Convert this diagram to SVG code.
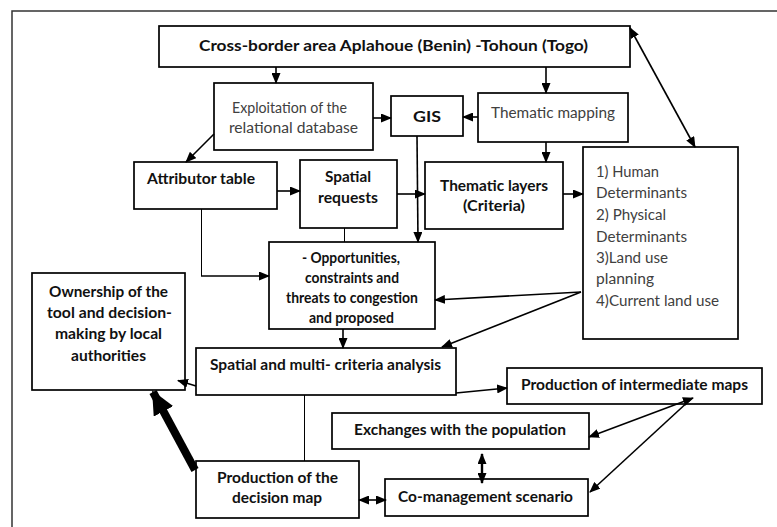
<svg xmlns="http://www.w3.org/2000/svg" width="777" height="527" viewBox="0 0 777 527">
<defs>
<style>
.box{fill:#fff;stroke:#000;stroke-width:1.7}
.b{font-family:Lato,"Liberation Sans",sans-serif;font-weight:bold;font-size:15.5px;fill:#111}
.r{font-family:Lato,"Liberation Sans",sans-serif;font-size:15.5px;fill:#404040}
.c{fill:none;stroke:#000;stroke-width:1.6}
.t{fill:none;stroke:#000;stroke-width:1}
</style>
<marker id="ah" markerUnits="userSpaceOnUse" markerWidth="11" markerHeight="9" refX="10" refY="4.5" orient="auto-start-reverse" viewBox="0 0 11 9">
<path d="M0,0 L11,4.5 L0,9 z" fill="#000"/>
</marker>
<marker id="big" markerUnits="userSpaceOnUse" markerWidth="24" markerHeight="22" refX="22" refY="11" orient="auto" viewBox="0 0 24 22">
<path d="M0,0 L24,11 L0,22 z" fill="#000"/>
</marker>
<clipPath id="oppclip"><rect x="269" y="242" width="166" height="86"/></clipPath>
</defs>
<rect width="777" height="527" fill="#fff"/>
<path d="M12,527 L12,11 L777,11" fill="none" stroke="#333" stroke-width="1.5"/>

<g id="n-top"><rect class="box" x="159" y="26" width="471" height="41"/><text class="b" x="199" y="51" textLength="389" lengthAdjust="spacingAndGlyphs" font-size="16.5">Cross-border area Aplahoue (Benin) -Tohoun (Togo)</text></g>
<g id="n-exploit"><rect class="box" x="214" y="83" width="159" height="67"/><text class="r" x="232" y="113" textLength="115" lengthAdjust="spacingAndGlyphs">Exploitation of the</text><text class="r" x="229" y="133" textLength="129" lengthAdjust="spacingAndGlyphs">relational database</text></g>
<g id="n-gis"><rect class="box" x="391" y="96" width="72" height="40"/><text class="b" x="413" y="122" textLength="28" lengthAdjust="spacingAndGlyphs" font-size="16.5">GIS</text></g>
<g id="n-thmap"><rect class="box" x="478" y="93" width="150" height="49"/><text class="r" x="491" y="118" textLength="124" lengthAdjust="spacingAndGlyphs">Thematic mapping</text></g>
<g id="n-attr"><rect class="box" x="134" y="162" width="143" height="47"/><text class="b" x="147" y="184" textLength="108" lengthAdjust="spacingAndGlyphs">Attributor table</text></g>
<g id="n-spreq"><rect class="box" x="300" y="160" width="97" height="68"/><text class="b" x="325" y="182" textLength="46" lengthAdjust="spacingAndGlyphs">Spatial</text><text class="b" x="318" y="203" textLength="60" lengthAdjust="spacingAndGlyphs">requests</text></g>
<g id="n-thlay"><rect class="box" x="425" y="162" width="138" height="67"/><text class="b" x="440" y="191" textLength="108" lengthAdjust="spacingAndGlyphs">Thematic layers</text><text class="b" x="463" y="211" textLength="62" lengthAdjust="spacingAndGlyphs">(Criteria)</text></g>
<g id="n-crit"><rect class="box" x="583" y="147" width="155" height="192"/>
<text class="r" x="596" y="177" textLength="63" lengthAdjust="spacingAndGlyphs">1) Human</text>
<text class="r" x="596" y="198" textLength="91" lengthAdjust="spacingAndGlyphs">Determinants</text>
<text class="r" x="596" y="220" textLength="70" lengthAdjust="spacingAndGlyphs">2) Physical</text>
<text class="r" x="596" y="242" textLength="91" lengthAdjust="spacingAndGlyphs">Determinants</text>
<text class="r" x="596" y="263" textLength="72" lengthAdjust="spacingAndGlyphs">3)Land use</text>
<text class="r" x="596" y="284" textLength="58" lengthAdjust="spacingAndGlyphs">planning</text>
<text class="r" x="596" y="306" textLength="123" lengthAdjust="spacingAndGlyphs">4)Current land use</text></g>
<g id="n-opp"><rect class="box" x="269" y="242" width="166" height="87"/>
<g clip-path="url(#oppclip)">
<text class="b" x="302" y="263" textLength="98" lengthAdjust="spacingAndGlyphs">- Opportunities,</text>
<text class="b" x="305" y="283" textLength="94" lengthAdjust="spacingAndGlyphs">constraints and</text>
<text class="b" x="286" y="303" textLength="132" lengthAdjust="spacingAndGlyphs">threats to congestion</text>
<text class="b" x="309" y="323" textLength="85" lengthAdjust="spacingAndGlyphs">and proposed</text></g></g>
<g id="n-own"><rect class="box" x="32" y="273" width="153" height="117"/>
<text class="b" x="49" y="297" textLength="119" lengthAdjust="spacingAndGlyphs">Ownership of the</text>
<text class="b" x="47" y="318" textLength="125" lengthAdjust="spacingAndGlyphs">tool and decision-</text>
<text class="b" x="55" y="339" textLength="107" lengthAdjust="spacingAndGlyphs">making by local</text>
<text class="b" x="71" y="361" textLength="75" lengthAdjust="spacingAndGlyphs">authorities</text></g>
<g id="n-sma"><rect class="box" x="196" y="348" width="260" height="47"/><text class="b" x="210" y="370" textLength="231" lengthAdjust="spacingAndGlyphs">Spatial and multi- criteria analysis</text></g>
<g id="n-inter"><rect class="box" x="507" y="368" width="255" height="36"/><text class="b" x="521" y="390" textLength="227" lengthAdjust="spacingAndGlyphs">Production of intermediate maps</text></g>
<g id="n-exch"><rect class="box" x="332" y="413" width="257" height="36"/><text class="b" x="354" y="435" textLength="212" lengthAdjust="spacingAndGlyphs">Exchanges with the population</text></g>
<g id="n-dec"><rect class="box" x="196" y="461" width="163" height="57"/><text class="b" x="217" y="483" textLength="121" lengthAdjust="spacingAndGlyphs">Production of the</text><text class="b" x="232" y="503" textLength="90" lengthAdjust="spacingAndGlyphs">decision map</text></g>
<g id="n-coman"><rect class="box" x="385" y="479" width="203" height="37"/><text class="b" x="398" y="502" textLength="175" lengthAdjust="spacingAndGlyphs">Co-management scenario</text></g>

<g id="connectors">
<path class="c" d="M276,67 L276,83" marker-end="url(#ah)"/>
<path class="c" d="M546,67 L546,93" marker-end="url(#ah)"/>
<path class="c" d="M373,118 L391,118" marker-end="url(#ah)"/>
<path class="c" d="M478,117 L463,117" marker-end="url(#ah)"/>
<path class="c" d="M546,142 L546,162" marker-end="url(#ah)"/>
<path class="c" d="M630,28 L695,147" marker-start="url(#ah)" marker-end="url(#ah)"/>
<path class="c" d="M214,134 L186,162" marker-end="url(#ah)"/>
<path class="c" d="M277,191 L300,191" marker-end="url(#ah)"/>
<path class="c" d="M397,194 L425,194" marker-end="url(#ah)"/>
<path class="c" d="M563,194 L583,194" marker-end="url(#ah)"/>
<path class="c" d="M417,136 L418,242" marker-end="url(#ah)"/>
<path class="t" d="M344.5,228 L344.5,242"/>
<path class="t" d="M201.5,209 L201.5,276"/>
<path class="c" d="M201,276 L269,276" marker-end="url(#ah)"/>
<path class="c" d="M581,292 L435,300" marker-end="url(#ah)"/>
<path class="c" d="M581,292 L442,347" marker-end="url(#ah)"/>
<path class="c" d="M343,329 L343,348" marker-end="url(#ah)"/>
<path class="c" d="M196,386 L178,380.5" marker-end="url(#ah)"/>
<path d="M195,470 L153,392" fill="none" stroke="#000" stroke-width="8" marker-end="url(#big)"/>
<path class="t" d="M304.5,395 L304.5,461"/>
<path class="c" d="M456,393 L507,388" marker-end="url(#ah)"/>
<path class="c" d="M693,398 L589,437" marker-start="url(#ah)" marker-end="url(#ah)"/>
<path class="c" d="M691,399 L590,492" marker-end="url(#ah)"/>
<path d="M482,454 L482,483" fill="none" stroke="#000" stroke-width="2.4" marker-start="url(#ah)" marker-end="url(#ah)"/>
<path class="c" d="M359,500 L386,500" marker-start="url(#ah)" marker-end="url(#ah)"/>
</g>
</svg>
